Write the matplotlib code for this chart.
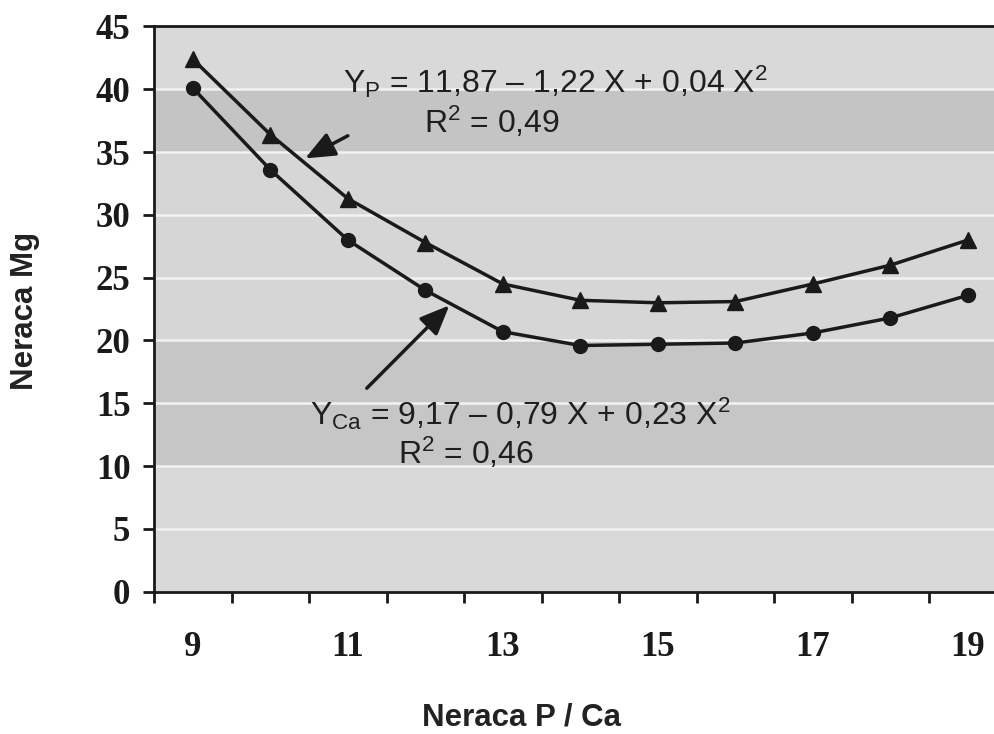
import numpy as np
import matplotlib
matplotlib.use("Agg")
import matplotlib.pyplot as plt

plt.rcParams['mathtext.fontset'] = 'custom'
plt.rcParams['mathtext.rm'] = 'Liberation Sans'
plt.rcParams['mathtext.it'] = 'Liberation Sans:italic'
plt.rcParams['mathtext.bf'] = 'Liberation Sans:bold'

# data
neraca_pca = [9, 10, 11, 12, 13, 14, 15, 16, 17, 18, 19]
y_p = [42.4, 36.4, 31.3, 27.8, 24.5, 23.2, 23.0, 23.1, 24.5, 26.0, 28.0]
y_ca = [40.1, 33.6, 28.0, 24.0, 20.7, 19.6, 19.7, 19.8, 20.6, 21.8, 23.6]
x_labels = [9, 11, 13, 15, 17, 19]
y_ticks = [0, 5, 10, 15, 20, 25, 30, 35, 40, 45]

fig = plt.figure(figsize=(9.95, 7.34), dpi=100)
# axes run past the right edge, like the cropped scan
ax = fig.add_axes([0.1548, 0.1939, 0.857, 0.770])

ax.set_xlim(8.5, 19.5)
ax.set_ylim(0, 45)

# shaded background bands
bands = [(0, 10, '#d9d9d9'), (10, 20, '#c6c6c6'), (20, 35, '#d6d6d6'),
         (35, 40, '#c4c4c4'), (40, 45, '#d9d9d9')]
for lo, hi, c in bands:
    ax.axhspan(lo, hi, color=c, zorder=0, lw=0)
for yv in y_ticks[1:-1]:
    ax.axhline(yv, color='#f2f2f2', lw=1.8, zorder=1)

ax.plot(neraca_pca, y_p, color='#1a1a1a', lw=2.5, marker='^', ms=11, zorder=3)
ax.plot(neraca_pca, y_ca, color='#1a1a1a', lw=2.5, marker='o', ms=10, zorder=3)

# axes styling
for s in ['top', 'left', 'bottom']:
    ax.spines[s].set_linewidth(2)
    ax.spines[s].set_color('#1a1a1a')
ax.spines['right'].set_visible(False)

ax.set_yticks(y_ticks)
ax.set_yticklabels([str(v) for v in y_ticks], fontfamily='Liberation Serif',
                   fontweight='bold', fontsize=25, color='#1a1a1a')
ax.tick_params(axis='y', direction='out', length=8, width=2, pad=9, colors='#1a1a1a')

ax.set_xticks(x_labels)
ax.set_xticklabels([str(v) for v in x_labels], fontfamily='Liberation Serif',
                   fontweight='bold', fontsize=25, color='#1a1a1a')
ax.tick_params(axis='x', which='major', length=0, pad=28)
ax.set_xticks(np.arange(8.5, 20, 1.0), minor=True)
ax.tick_params(axis='x', which='minor', direction='out', length=8, width=2,
               colors='#1a1a1a')

fig.text(522 / 995, 1 - 717 / 734, 'Neraca P / Ca', fontfamily='Liberation Sans',
         fontweight='bold', fontsize=22.5, color='#222222', ha='center', va='center')
fig.text(25 / 995, 1 - 311 / 734, 'Neraca Mg', fontfamily='Liberation Sans',
         fontweight='bold', fontsize=22.5, color='#222222', ha='center', va='center',
         rotation=90)

eq_kw = dict(fontfamily='Liberation Sans', fontsize=23, color='#1f1f1f',
             ha='center', va='baseline', zorder=4)
ax.text(13.68, 39.7, r'$\mathregular{Y_P}$ = 11,87 – 1,22 X + 0,04 X$\mathregular{^2}$', **eq_kw)
ax.text(12.86, 36.5, r'R$\mathregular{^2}$ = 0,49', **eq_kw)
ax.text(13.23, 13.3, r'$\mathregular{Y_{Ca}}$ = 9,17 – 0,79 X + 0,23 X$\mathregular{^2}$', **eq_kw)
ax.text(12.52, 10.2, r'R$\mathregular{^2}$ = 0,46', **eq_kw)

arrow_kw = dict(arrowstyle='-|>,head_length=0.9,head_width=0.38', color='#1a1a1a',
                lw=2.5, shrinkA=0, shrinkB=0, mutation_scale=20)
ax.annotate('', xy=(10.45, 34.5), xytext=(11.0, 36.3), arrowprops=arrow_kw, zorder=4)
ax.annotate('', xy=(12.31, 22.8), xytext=(11.245, 16.2), arrowprops=arrow_kw, zorder=4)

fig.savefig('out.png', dpi=100, facecolor='white')
